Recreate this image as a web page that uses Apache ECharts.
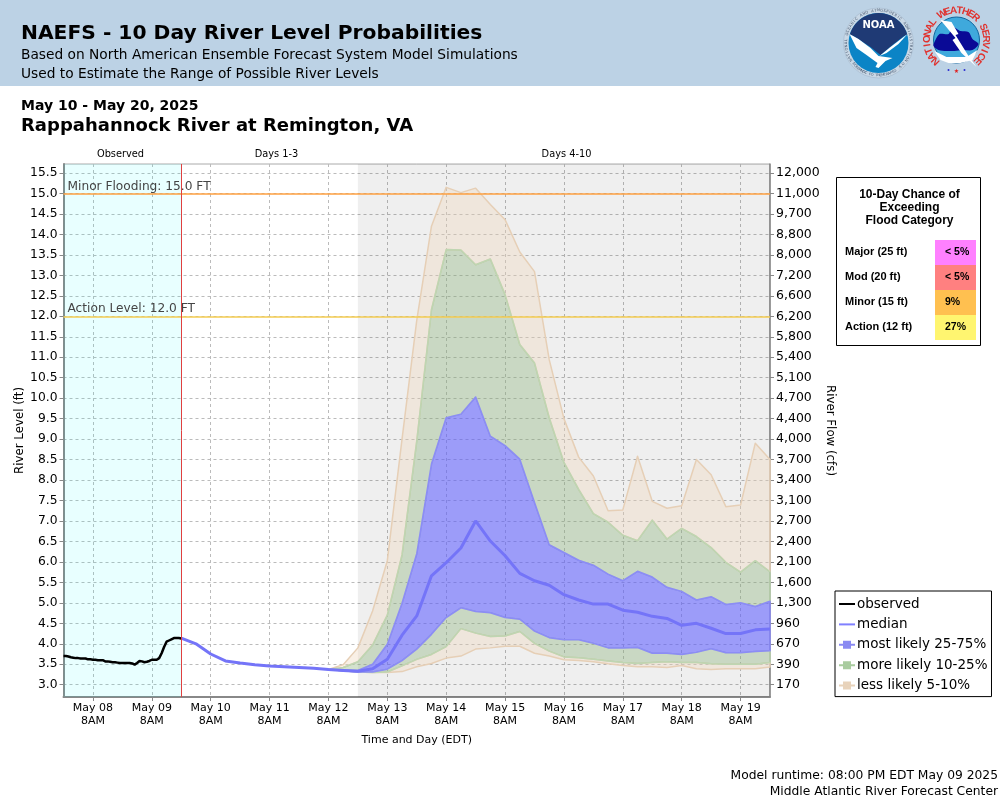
<!DOCTYPE html>
<html>
<head>
<meta charset="utf-8">
<title>NAEFS River Level Probabilities</title>
<style>
  html, body { margin: 0; padding: 0; background: #fff; }
  #chart { width: 1000px; height: 800px; }
</style>
<script src="https://cdn.jsdelivr.net/npm/echarts@6/dist/echarts.min.js"></script>
</head>
<body>
<div id="chart"></div>
<script>
/* hours are counted from May 07 8PM, the left edge of the plot */
const dayLabels = ['May 08', 'May 09', 'May 10', 'May 11', 'May 12', 'May 13', 'May 14', 'May 15', 'May 16', 'May 17', 'May 18', 'May 19'];
const dayTicks = [12, 36, 60, 84, 108, 132, 156, 180, 204, 228, 252, 276];
const stageTicks = [3.0, 3.5, 4.0, 4.5, 5.0, 5.5, 6.0, 6.5, 7.0, 7.5, 8.0, 8.5, 9.0, 9.5, 10.0, 10.5, 11.0, 11.5, 12.0, 12.5, 13.0, 13.5, 14.0, 14.5, 15.0, 15.5];
const flowLabels = ['170', '390', '670', '960', '1,300', '1,600', '2,100', '2,400', '2,700', '3,100', '3,400', '3,700', '4,000', '4,400', '4,700', '5,100', '5,400', '5,800', '6,200', '6,600', '7,200', '8,000', '8,800', '9,700', '11,000', '12,000'];

/* hourly, starting at hour 0 */
const observed = [3.70, 3.70, 3.69, 3.67, 3.66, 3.65, 3.65, 3.64, 3.64, 3.64, 3.62, 3.62, 3.61, 3.61, 3.60, 3.60, 3.60, 3.57, 3.57, 3.56, 3.55, 3.55, 3.54, 3.53, 3.53, 3.53, 3.53, 3.53, 3.52, 3.49, 3.53, 3.58, 3.57, 3.55, 3.56, 3.58, 3.61, 3.61, 3.61, 3.65, 3.77, 3.92, 4.05, 4.08, 4.11, 4.14, 4.14, 4.14, 4.13];

/* 6 hourly, starting at hour 48 */
const median = [4.14, 4.00, 3.75, 3.58, 3.53, 3.49, 3.46, 3.44, 3.42, 3.40, 3.37, 3.35, 3.33, 3.39, 3.62, 4.21, 4.68, 5.66, 5.98, 6.34, 7.00, 6.51, 6.15, 5.72, 5.54, 5.43, 5.20, 5.07, 4.97, 4.97, 4.82, 4.77, 4.67, 4.62, 4.45, 4.50, 4.38, 4.25, 4.25, 4.34, 4.36];

/* 6 hourly, starting at hour 108 where the ensemble starts to spread */
const p05 = [3.37, 3.34, 3.31, 3.30, 3.30, 3.32, 3.44, 3.52, 3.65, 3.70, 3.87, 3.90, 3.94, 3.94, 3.77, 3.70, 3.61, 3.59, 3.56, 3.51, 3.47, 3.44, 3.44, 3.42, 3.47, 3.39, 3.37, 3.39, 3.39, 3.39, 3.43];
const p10 = [3.37, 3.34, 3.31, 3.30, 3.31, 3.46, 3.62, 3.74, 3.93, 4.37, 4.26, 4.18, 4.19, 4.30, 4.01, 3.82, 3.68, 3.66, 3.62, 3.58, 3.54, 3.52, 3.54, 3.56, 3.54, 3.54, 3.51, 3.50, 3.50, 3.50, 3.54];
const p25 = [3.37, 3.34, 3.31, 3.31, 3.38, 3.59, 3.87, 4.23, 4.64, 4.88, 4.79, 4.76, 4.64, 4.60, 4.31, 4.15, 4.10, 4.10, 4.01, 3.90, 3.90, 3.91, 3.77, 3.77, 3.74, 3.79, 3.88, 3.78, 3.78, 3.81, 3.83];
const p75 = [3.37, 3.36, 3.35, 3.50, 3.99, 4.99, 6.20, 8.39, 9.52, 9.61, 10.03, 9.07, 8.84, 8.51, 7.45, 6.42, 6.23, 6.04, 5.92, 5.70, 5.54, 5.77, 5.63, 5.38, 5.28, 5.07, 5.15, 4.96, 5.00, 4.91, 5.04];
const p90 = [3.37, 3.42, 3.56, 3.97, 4.70, 6.17, 8.95, 12.16, 13.63, 13.62, 13.26, 13.40, 12.53, 11.31, 10.86, 9.52, 8.43, 7.77, 7.18, 6.97, 6.65, 6.52, 7.02, 6.56, 6.82, 6.62, 6.35, 5.99, 5.75, 6.03, 5.76];
const p95 = [3.37, 3.49, 3.90, 4.80, 6.03, 9.00, 11.90, 14.20, 15.15, 15.02, 15.13, 14.73, 14.36, 13.57, 13.09, 10.94, 9.50, 8.56, 8.10, 7.25, 7.27, 8.58, 7.48, 7.31, 7.37, 8.50, 8.13, 7.35, 7.39, 8.90, 8.50];

const floodRows = ['Major (25 ft)', 'Mod (20 ft)', 'Minor (15 ft)', 'Action (12 ft)'];
const floodChances = ['< 5%', '< 5%', '9%', '27%'];
const floodColors = ['#ff80ff', '#ff8080', '#ffc050', '#fff570'];

const LINE_ICON = 'path://M0 3H16V5H0Z';
const BAND_ICON = 'path://M0 3H4V0H12V3H16V5H12V8H4V5H0Z';
const FONT = 'DejaVu Sans';
const TAN = 'rgba(240,217,192,0.4)';
const GREEN = 'rgba(145,182,130,0.4)';
const BLUE = 'rgba(100,100,255,0.6)';
const TAN_EDGE = '#e6cfb6';
const GREEN_EDGE = '#bed6b2';
const BLUE_EDGE = '#8c8cf6';

/* one polygon between two percentile lines, drawn once for the whole series */
function bandSeries(name, upper, lower, fill, edge) {
    return {
        name: name,
        type: 'custom',
        silent: true,
        coordinateSystem: 'cartesian2d',
        encode: {x: 0, y: [1, 2]},
        data: upper.map((v, i) => [108 + i * 6, lower[i], v]),
        renderItem: function (params, api) {
            if (params.dataIndex !== 0) {
                return null;
            }
            let top = upper.map((v, i) => api.coord([108 + i * 6, v]));
            let bottom = lower.map((v, i) => api.coord([108 + i * 6, v])).reverse();
            return {
                type: 'polygon',
                shape: {points: top.concat(bottom)},
                style: {fill: fill, stroke: edge, lineWidth: 1.5, lineJoin: 'round'}
            };
        }
    };
}

/* letters placed one by one around a logo ring */
function ringText(text, cx, cy, r, from, to, font, color, inward) {
    let out = [];
    let step = (to - from) / (text.length - 1);
    for (let i = 0; i < text.length; i++) {
        let a = (from + step * i) * Math.PI / 180;
        out.push({
            type: 'text',
            x: cx + r * Math.sin(a),
            y: cy - r * Math.cos(a),
            rotation: inward ? Math.PI - a : -a,
            silent: true,
            style: {text: text[i], font: font, fill: color, align: 'center', verticalAlign: 'middle'}
        });
    }
    return out;
}

function shape(points, cx, cy, fill, smooth) {
    return {type: 'polygon', x: cx, y: cy, silent: true, shape: {points: points, smooth: smooth || 0}, style: {fill: fill}};
}

function noaaLogo(cx, cy) {
    return [
        {type: 'circle', silent: true, shape: {cx: cx, cy: cy, r: 35}, style: {fill: '#c9d8e6', stroke: '#9fb2c6', lineWidth: 0.5}},
        {type: 'circle', silent: true, shape: {cx: cx, cy: cy, r: 30}, style: {fill: '#0b84c6'}},
        {type: 'sector', silent: true, shape: {cx: cx, cy: cy, r: 30, startAngle: Math.PI * 1.09, endAngle: Math.PI * 1.91}, style: {fill: '#1f3a75'}},
        shape([[-28, -9], [28, -9], [14, 2], [2, 12], [-8, 4]], cx, cy, '#1f3a75'),
        shape([[-29, -9], [-20, -4], [-8, 5], [0, 13], [14, 15], [7, 18], [0, 25], [-3, 24], [-1, 20], [-12, 12], [-22, 5]], cx, cy, '#fff'),
        shape([[29, -9], [20, 1], [8, 10], [1, 13], [12, 4]], cx, cy, '#fff'),
        {type: 'text', x: cx, y: cy - 18, silent: true, style: {text: 'NOAA', font: 'bold 10px "DejaVu Sans"', fill: '#fff', align: 'center', verticalAlign: 'middle'}}
    ].concat(
        ringText('NATIONAL OCEANIC AND ATMOSPHERIC ADMINISTRATION', cx, cy, 32.5, -122, 122, '3.6px "DejaVu Sans"', '#44566e', false),
        ringText('U.S. DEPARTMENT OF COMMERCE', cx, cy, 32.5, 130, 230, '3.6px "DejaVu Sans"', '#44566e', true)
    );
}

function nwsLogo(cx, cy) {
    return [
        {type: 'circle', silent: true, shape: {cx: cx, cy: cy, r: 23}, style: {fill: '#3fa9dc', stroke: '#11669e', lineWidth: 1}},
        shape([[-22, 11], [-10, 17], [10, 17], [21, 10], [16, 20], [4, 23], [-8, 23], [-16, 20]], cx, cy, '#fff'),
        shape([[-22, 2], [-17, -6], [-8, -6], [-4, -13], [4, -9], [12, -8], [16, -1], [22, 4], [16, 10], [6, 10], [-2, 11], [-10, 11], [-18, 10], [-23, 6]], cx, cy, '#0a0a96', 0.3),
        shape([[-16, -20], [-5, -18], [2, -6], [-1, -5], [12, 16], [20, 27], [5, 13], [-4, 0], [-1, -2]], cx, cy, '#fff'),
        {type: 'text', x: cx, y: cy + 31, silent: true, style: {text: '★', font: '6px "DejaVu Sans"', fill: '#e02020', align: 'center', verticalAlign: 'middle'}},
        {type: 'circle', silent: true, shape: {cx: cx - 8, cy: cy + 30, r: 1}, style: {fill: '#2a2ad0'}},
        {type: 'circle', silent: true, shape: {cx: cx + 8, cy: cy + 30, r: 1}, style: {fill: '#2a2ad0'}}
    ].concat(ringText('NATIONAL WEATHER SERVICE', cx, cy, 29.5, -135, 135, 'bold 10px "Liberation Sans"', '#e0322e', false));
}

/* flood category table to the right of the plot */
function floodTable() {
    let items = [
        {type: 'rect', silent: true, shape: {x: 836.5, y: 177.5, width: 144, height: 168}, style: {fill: '#fff', stroke: '#000', lineWidth: 1}}
    ];
    ['10-Day Chance of', 'Exceeding', 'Flood Category'].forEach((t, i) => {
        items.push({type: 'text', x: 909.5, y: 195 + i * 13, silent: true,
            style: {text: t, font: 'bold 12px "Liberation Sans"', fill: '#000', align: 'center', verticalAlign: 'middle'}});
    });
    floodRows.forEach((t, i) => {
        let top = 240 + i * 25;
        items.push({type: 'rect', silent: true, shape: {x: 935, y: top, width: 41, height: 25}, style: {fill: floodColors[i]}});
        items.push({type: 'text', x: 845, y: top + 12, silent: true,
            style: {text: t, font: 'bold 11px "Liberation Sans"', fill: '#000', align: 'left', verticalAlign: 'middle'}});
        items.push({type: 'text', x: 945, y: top + 12, silent: true,
            style: {text: floodChances[i], font: 'bold 10.5px "Liberation Sans"', fill: '#000', align: 'left', verticalAlign: 'middle'}});
    });
    return items;
}

function smallText(text, x, y, size, align) {
    return {type: 'text', x: x, y: y, silent: true,
        style: {text: text, font: size + 'px "DejaVu Sans"', fill: '#000', align: align, verticalAlign: 'middle'}};
}

let chart = echarts.init(document.getElementById('chart'), null, {renderer: 'canvas'});

let option = {
    animation: false,
    backgroundColor: '#fff',
    title: [
        {text: 'NAEFS - 10 Day River Level Probabilities', left: 21, top: 24, padding: 0,
            textStyle: {fontFamily: FONT, fontSize: 20.25, fontWeight: 'bold', color: '#000'}},
        {text: 'Based on North American Ensemble Forecast System Model Simulations', left: 21, top: 48, padding: 0,
            textStyle: {fontFamily: FONT, fontSize: 13.75, fontWeight: 'normal', color: '#000'}},
        {text: 'Used to Estimate the Range of Possible River Levels', left: 21, top: 67, padding: 0,
            textStyle: {fontFamily: FONT, fontSize: 13.75, fontWeight: 'normal', color: '#000'}},
        {text: 'May 10 - May 20, 2025', left: 21, top: 99, padding: 0,
            textStyle: {fontFamily: FONT, fontSize: 14, fontWeight: 'bold', color: '#000'}},
        {text: 'Rappahannock River at Remington, VA', left: 21, top: 117, padding: 0,
            textStyle: {fontFamily: FONT, fontSize: 18, fontWeight: 'bold', color: '#000'}}
    ],
    graphic: [
        {type: 'rect', silent: true, z: -1, shape: {x: 0, y: 0, width: 1000, height: 86}, style: {fill: '#bcd2e5'}},
        smallText('Observed', 120.5, 154, 9.8, 'center'),
        smallText('Days 1-3', 276.5, 154, 9.8, 'center'),
        smallText('Days 4-10', 566.5, 154, 9.8, 'center'),
        smallText('Model runtime: 08:00 PM EDT May 09 2025', 998, 776, 12.3, 'right'),
        smallText('Middle Atlantic River Forecast Center', 998, 792, 12.3, 'right')
    ].concat(noaaLogo(878.5, 43), nwsLogo(956.5, 40), floodTable()),
    legend: {
        left: 835,
        top: 591,
        orient: 'vertical',
        backgroundColor: '#fff',
        borderColor: '#000',
        borderWidth: 1,
        borderRadius: 0,
        padding: [6, 4, 4, 4],
        itemWidth: 16,
        itemHeight: 8,
        itemGap: 6.4,
        selectedMode: false,
        textStyle: {fontFamily: FONT, fontSize: 13.5, color: '#000', padding: [0, 0, 0, -3]},
        data: [
            {name: 'observed', icon: LINE_ICON, itemStyle: {color: '#000'}},
            {name: 'median', icon: LINE_ICON, itemStyle: {color: '#8080ff'}},
            {name: 'most likely 25-75%', icon: BAND_ICON, itemStyle: {color: '#8a8af2'}},
            {name: 'more likely 10-25%', icon: BAND_ICON, itemStyle: {color: '#a9cc9f'}},
            {name: 'less likely 5-10%', icon: BAND_ICON, itemStyle: {color: '#e8d3bb'}}
        ]
    },
    grid: {left: 63.5, right: 230, top: 164, height: 533, show: true, borderColor: '#aaa', borderWidth: 1, backgroundColor: 'transparent', outerBoundsMode: 'none'},
    xAxis: {
        type: 'value',
        min: 0,
        max: 288,
        name: 'Time and Day (EDT)',
        nameLocation: 'middle',
        nameGap: 38,
        nameMoveOverlap: false,
        nameTextStyle: {fontFamily: FONT, fontSize: 11, color: '#000'},
        axisLine: {show: true, lineStyle: {color: '#888', width: 2}},
        axisTick: {show: true, length: 4, customValues: dayTicks, lineStyle: {color: '#888'}},
        axisLabel: {
            customValues: dayTicks,
            fontFamily: FONT, fontSize: 11, color: '#000', lineHeight: 13, margin: 5,
            formatter: v => dayLabels[dayTicks.indexOf(v)] + '\n8AM'
        },
        splitLine: {show: true, lineStyle: {color: '#bbb', type: [3, 3], width: 1}}
    },
    yAxis: [
        {
            type: 'value',
            min: 2.7,
            max: 15.72,
            name: 'River Level (ft)',
            nameLocation: 'middle',
            nameGap: 38,
            nameMoveOverlap: false,
            nameRotate: 90,
            nameTextStyle: {fontFamily: FONT, fontSize: 11.8, color: '#000'},
            axisLine: {show: true, lineStyle: {color: '#888', width: 2}},
            axisTick: {show: true, length: 4, customValues: stageTicks, lineStyle: {color: '#888'}},
            axisLabel: {customValues: stageTicks, fontFamily: FONT, fontSize: 12.3, color: '#000', margin: 6, formatter: v => v.toFixed(1)},
            splitLine: {show: true, lineStyle: {color: '#bbb', type: [3, 3], width: 1}}
        },
        {
            type: 'value',
            position: 'right',
            min: 2.7,
            max: 15.72,
            name: 'River Flow (cfs)',
            nameLocation: 'middle',
            nameGap: 54,
            nameMoveOverlap: false,
            nameRotate: -90,
            nameTextStyle: {fontFamily: FONT, fontSize: 11.8, color: '#000'},
            axisLine: {show: true, lineStyle: {color: '#888', width: 1.5}},
            axisTick: {show: true, length: 4, customValues: stageTicks, lineStyle: {color: '#888'}},
            axisLabel: {customValues: stageTicks, fontFamily: FONT, fontSize: 12.5, color: '#000', margin: 6, formatter: v => flowLabels[stageTicks.indexOf(v)]},
            splitLine: {show: false}
        }
    ],
    series: [
        bandSeries('less likely 5-10%', p95, p90, TAN, TAN_EDGE),
        bandSeries('less likely 5-10%', p10, p05, TAN, TAN_EDGE),
        bandSeries('more likely 10-25%', p90, p75, GREEN, GREEN_EDGE),
        bandSeries('more likely 10-25%', p25, p10, GREEN, GREEN_EDGE),
        bandSeries('most likely 25-75%', p75, p25, BLUE, BLUE_EDGE),
        {
            name: 'median',
            type: 'line',
            symbol: 'none',
            silent: true,
            z: 4,
            lineStyle: {color: '#7474f8', width: 3},
            data: median.map((v, i) => [48 + i * 6, v])
        },
        {
            name: 'observed',
            type: 'line',
            symbol: 'none',
            silent: true,
            z: 4,
            lineStyle: {color: '#000', width: 2.5},
            data: observed.map((v, i) => [i, v]),
            markArea: {
                silent: true,
                z: 1,
                data: [
                    [{xAxis: 0, itemStyle: {color: 'rgba(0,255,255,0.09)'}}, {xAxis: 48}],
                    [{xAxis: 120, itemStyle: {color: 'rgba(0,0,0,0.063)'}}, {xAxis: 288}]
                ]
            },
            markLine: {
                silent: true,
                symbol: 'none',
                z: 5,
                data: [
                    {yAxis: 15, lineStyle: {color: '#ffa040', width: 1.5, type: 'solid'},
                        label: {formatter: 'Minor Flooding: 15.0 FT', position: 'insideStartTop', distance: [4, 1], fontFamily: FONT, fontSize: 12.2, color: '#444'}},
                    {yAxis: 12, lineStyle: {color: '#f5cc50', width: 1.5, type: 'solid'},
                        label: {formatter: 'Action Level: 12.0 FT', position: 'insideStartTop', distance: [4, 1], fontFamily: FONT, fontSize: 12.2, color: '#444'}},
                    {xAxis: 48, lineStyle: {color: '#e04040', width: 1, type: 'solid'}, label: {show: false}}
                ]
            }
        }
    ]
};
chart.setOption(option);
</script>
</body>
</html>
